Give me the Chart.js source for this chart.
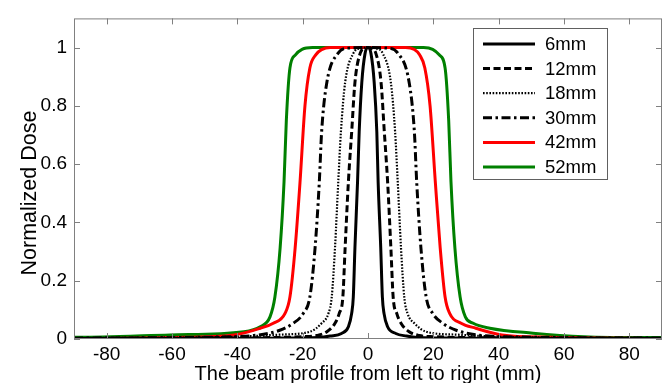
<!DOCTYPE html>
<html>
<head>
<meta charset="utf-8">
<script src="https://cdn.jsdelivr.net/npm/chart.js@4/dist/chart.umd.min.js"></script>
<style>
  html, body { margin: 0; padding: 0; background: #fff; }
  #c { display: block; }
</style>
</head>
<body>
<canvas id="c" width="670" height="383"></canvas>
<script>
// ---- data ----
const seriesLabels = ['6mm', '12mm', '18mm', '30mm', '42mm', '52mm'];
const xTicks = [-80, -60, -40, -20, 0, 20, 40, 60, 80];
const yTicks = [0, 0.2, 0.4, 0.6, 0.8, 1];
const xTitle = 'The beam profile from left to right (mm)';
const yTitle = 'Normalized Dose';

const x6  = [-90, -60, -30, -15, -11.6, -8.1, -6.0, -5.0, -4.5, -4.0, -3.2, -2.7, -1.9, -0.9, 0, 0.9, 1.9, 2.7, 3.1, 3.9, 4.4, 4.9, 6.0, 8.5, 11.8, 15, 30, 60, 90];
const y6  = [0.002, 0.002, 0.003, 0.005, 0.01, 0.019, 0.042, 0.088, 0.144, 0.313, 0.54, 0.71, 0.88, 0.98, 1.0, 0.98, 0.88, 0.71, 0.54, 0.313, 0.144, 0.088, 0.042, 0.019, 0.01, 0.005, 0.003, 0.002, 0.002];

const x12 = [-90, -40, -20, -15.7, -12.6, -10.1, -8.8, -7.7, -7.0, -6.0, -5.0, -4.0, -2.4, -1.0, 0, 1.0, 2.4, 4.0, 5.0, 6.0, 7.0, 7.7, 8.8, 10.1, 12.6, 15.7, 20, 40, 90];
const y12 = [0.002, 0.004, 0.008, 0.012, 0.025, 0.054, 0.088, 0.144, 0.313, 0.54, 0.71, 0.88, 0.98, 0.997, 1.0, 0.997, 0.98, 0.88, 0.71, 0.54, 0.313, 0.144, 0.088, 0.054, 0.025, 0.012, 0.008, 0.004, 0.002];

const x18 = [-90, -40, -27, -17.8, -14.2, -12.1, -11.1, -10.1, -9.1, -8.3, -7.0, -4.5, -2.5, 0, 2.5, 4.5, 7.0, 8.3, 9.1, 10.1, 11.1, 12.1, 14.2, 17.8, 27, 40, 90];
const y18 = [0.003, 0.008, 0.015, 0.025, 0.054, 0.088, 0.144, 0.313, 0.54, 0.71, 0.88, 0.98, 0.997, 1.0, 0.997, 0.98, 0.88, 0.71, 0.54, 0.313, 0.144, 0.088, 0.054, 0.025, 0.015, 0.008, 0.003];

const x30 = [-90, -50, -35, -27, -22.9, -19.8, -17.8, -16.2, -14.9, -14.2, -12.6, -9.2, -6.0, 0, 6.0, 9.2, 12.6, 14.2, 14.9, 16.2, 17.8, 19.8, 22.9, 27, 35, 50, 90];
const y30 = [0.003, 0.006, 0.012, 0.03, 0.054, 0.088, 0.144, 0.313, 0.54, 0.71, 0.88, 0.98, 0.998, 1.0, 0.998, 0.98, 0.88, 0.71, 0.54, 0.313, 0.144, 0.088, 0.054, 0.03, 0.012, 0.006, 0.003];

const x42 = [-90, -60, -41, -33, -29, -25.4, -23.9, -22.3, -20.8, -19.3, -17.8, -16.0, -14.2, -11.5, 0, 11.5, 14.2, 15.8, 17.4, 19.0, 20.6, 22.1, 23.6, 25.0, 28.5, 33, 41, 56, 90];
const y42 = [0.001, 0.005, 0.014, 0.037, 0.054, 0.088, 0.144, 0.313, 0.54, 0.8, 0.93, 0.975, 0.993, 1.0, 1.0, 1.0, 0.993, 0.975, 0.93, 0.8, 0.54, 0.313, 0.144, 0.088, 0.054, 0.037, 0.014, 0.006, 0.002];

const x52 = [-90, -81, -60.6, -38, -33, -30, -28.5, -26.9, -25.7, -25.0, -23.9, -22.2, -20.2, -17.0, 0, 17.0, 19.8, 21.8, 23.6, 24.7, 25.4, 26.6, 28.2, 29.8, 32.2, 37.3, 50.5, 66, 86, 90];
const y52 = [0.006, 0.007, 0.014, 0.025, 0.042, 0.076, 0.144, 0.313, 0.54, 0.75, 0.93, 0.975, 0.994, 1.0, 1.0, 1.0, 0.994, 0.975, 0.93, 0.75, 0.54, 0.313, 0.144, 0.076, 0.054, 0.037, 0.02, 0.008, 0.005, 0.005];

// ---- chart ----
const FONT = "'Liberation Sans', Arial, sans-serif";
const AXIS_GRAY = '#808080';
const pts = (xs, ys) => xs.map((x, i) => ({ x: x, y: ys[i] }));

const styles = [
  { color: '#000000', width: 3, dash: [] },
  { color: '#000000', width: 3, dash: [7, 3.5] },
  { color: '#000000', width: 2.2, dash: [1.6, 1.6] },
  { color: '#000000', width: 3, dash: [9, 3.5, 2.5, 3.5] },
  { color: '#ff0000', width: 3, dash: [] },
  { color: '#008000', width: 3, dash: [] }
];
const xsAll = [x6, x12, x18, x30, x42, x52];
const ysAll = [y6, y12, y18, y30, y42, y52];

const datasets = seriesLabels.map((lab, i) => ({
  label: lab,
  data: pts(xsAll[i], ysAll[i]),
  borderColor: styles[i].color,
  borderWidth: styles[i].width,
  borderDash: styles[i].dash,
  pointRadius: 0,
  fill: false,
  showLine: true,
  cubicInterpolationMode: 'monotone'
}));

const framePlugin = {
  id: 'frame',
  afterDatasetsDraw(chart) {
    const { ctx, chartArea: a, scales } = chart;
    ctx.save();
    ctx.strokeStyle = AXIS_GRAY;
    ctx.lineWidth = 1;
    ctx.strokeRect(a.left + 0.5, a.top + 0.5, a.right - a.left - 1, a.bottom - a.top - 1);
    ctx.beginPath();
    const tl = 6;
    xTicks.forEach(v => {
      const px = Math.round(scales.x.getPixelForValue(v)) + 0.5;
      ctx.moveTo(px, a.bottom); ctx.lineTo(px, a.bottom - tl);
      ctx.moveTo(px, a.top); ctx.lineTo(px, a.top + tl);
    });
    yTicks.forEach(v => {
      const py = Math.round(scales.y.getPixelForValue(v)) + 0.5;
      ctx.moveTo(a.left, py); ctx.lineTo(a.left + tl, py);
      ctx.moveTo(a.right, py); ctx.lineTo(a.right - tl, py);
    });
    ctx.stroke();

    // y axis title
    ctx.save();
    ctx.translate(30, 193);
    ctx.rotate(-Math.PI / 2);
    ctx.font = '21.5px ' + FONT;
    ctx.fillStyle = '#000';
    ctx.textAlign = 'center';
    ctx.textBaseline = 'middle';
    ctx.fillText(yTitle, 0, 0);
    ctx.restore();

    // legend
    const bx = 473, by = 28, bw = 134, bh = 151;
    ctx.fillStyle = '#ffffff';
    ctx.fillRect(bx, by, bw, bh);
    ctx.strokeStyle = '#606060';
    ctx.strokeRect(bx + 0.5, by + 0.5, bw, bh);
    ctx.font = '18.5px ' + FONT;
    ctx.textBaseline = 'middle';
    ctx.textAlign = 'left';
    chart.data.datasets.forEach((ds, i) => {
      const y = 44 + i * 24.6;
      ctx.beginPath();
      ctx.strokeStyle = ds.borderColor;
      ctx.lineWidth = ds.borderWidth;
      ctx.setLineDash(ds.borderDash);
      ctx.moveTo(483, y); ctx.lineTo(535, y);
      ctx.stroke();
      ctx.setLineDash([]);
      ctx.fillStyle = '#000';
      ctx.fillText(ds.label, 545, y + 1);
    });
    ctx.restore();
  }
};

new Chart(document.getElementById('c'), {
  type: 'scatter',
  data: { datasets: datasets },
  options: {
    responsive: false,
    animation: false,
    devicePixelRatio: 1,
    layout: { padding: { top: 15, right: 8, left: 0, bottom: 0 } },
    plugins: { legend: { display: false }, tooltip: { enabled: false } },
    scales: {
      x: {
        type: 'linear', min: -90, max: 90,
        grid: { display: false, drawTicks: false },
        border: { display: false },
        afterBuildTicks: s => { s.ticks = xTicks.map(v => ({ value: v })); },
        afterFit: s => { s.height = 44; },
        ticks: { padding: 4, color: '#000', font: { family: FONT, size: 19 }, callback: v => String(v) },
        title: { display: true, text: xTitle, color: '#000', font: { family: FONT, size: 20 }, padding: { top: 0, bottom: -3 } }
      },
      y: {
        type: 'linear', min: 0, max: 1.1,
        grid: { display: false, drawTicks: false },
        border: { display: false },
        afterBuildTicks: s => { s.ticks = yTicks.map(v => ({ value: v })); },
        afterFit: s => { s.width = 74; },
        ticks: { padding: 7, color: '#000', font: { family: FONT, size: 19 }, callback: v => String(Math.round(v * 10) / 10) },
        title: { display: false }
      }
    }
  },
  plugins: [framePlugin]
});
</script>
</body>
</html>
